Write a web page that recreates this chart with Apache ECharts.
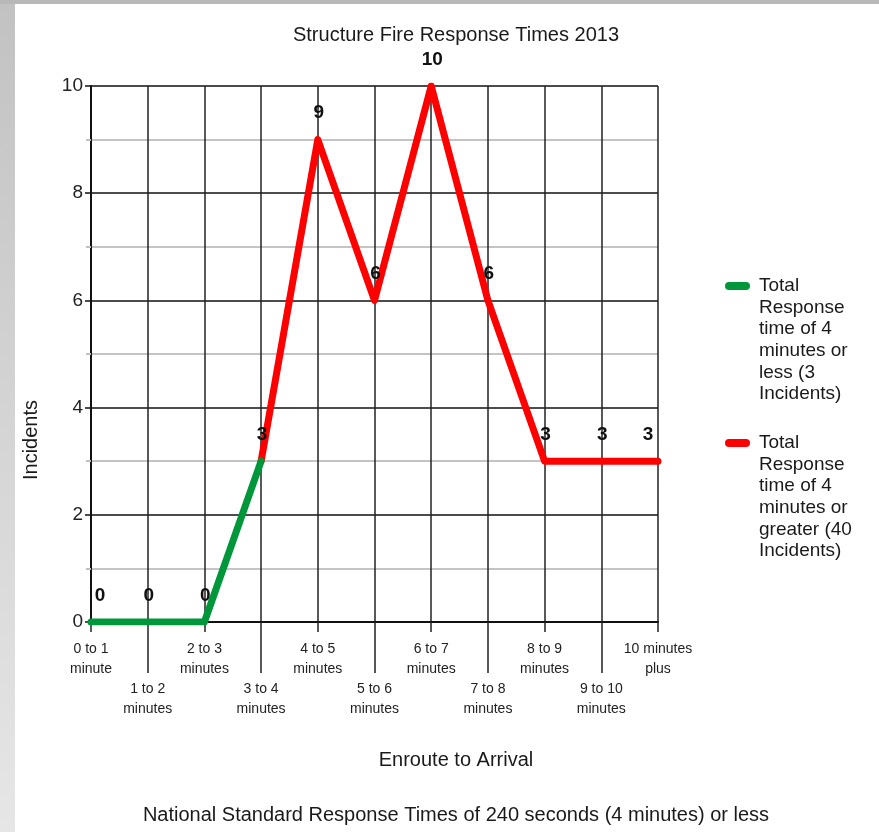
<!DOCTYPE html>
<html>
<head>
<meta charset="utf-8">
<script src="https://cdn.jsdelivr.net/npm/echarts@6/dist/echarts.min.js"></script>
<style>
  html, body { margin: 0; padding: 0; }
  #wrap {
    width: 879px; height: 832px; position: relative;
    background:
      linear-gradient(to bottom, #b8b8b8 0, #b8b8b8 4px, rgba(0,0,0,0) 4px) left top / 100% 4px no-repeat,
      linear-gradient(to bottom, #c2c2c2, #e6e6e6) left top / 15px 100% no-repeat,
      #ffffff;
  }
  #chart { width: 879px; height: 832px; }
</style>
</head>
<body>
<div id="wrap"><div id="chart"></div></div>
<script>
// ---- data ----
const chartTitle = 'Structure Fire Response Times 2013';
const footNote = 'National Standard Response Times of 240 seconds (4 minutes) or less';
const xAxisTitle = 'Enroute to Arrival';
const yAxisTitle = 'Incidents';
const categories = [
  '0 to 1\nminute', '1 to 2\nminutes', '2 to 3\nminutes', '3 to 4\nminutes',
  '4 to 5\nminutes', '5 to 6\nminutes', '6 to 7\nminutes', '7 to 8\nminutes',
  '8 to 9\nminutes', '9 to 10\nminutes', '10 minutes\nplus'
];
const seriesNames = [
  'Total\nResponse\ntime of 4\nminutes or\nless (3\nIncidents)',
  'Total\nResponse\ntime of 4\nminutes or\ngreater (40\nIncidents)'
];
const withinFour = [0, 0, 0, 3, null, null, null, null, null, null, null];
const overFour   = [null, null, null, 3, 9, 6, 10, 6, 3, 3, 3];
const yTicks = [0, 2, 4, 6, 8, 10];

// ---- build ----
const FONT = "'Liberation Sans', Arial, sans-serif";
const labelBase = { show: true, position: 'top', distance: 14, fontFamily: FONT, fontWeight: 'bold', fontSize: 19, color: '#111' };
const lastIdx = categories.length - 1;

function buildItems(values, hideIdx) {
  return values.map((v, i) => {
    if (v === null) return '-';
    const lab = Object.assign({}, labelBase);
    if (hideIdx.indexOf(i) >= 0) lab.show = false;
    if (i === 0) lab.offset = [9, 0];
    else if (i === lastIdx) lab.offset = [-10, 0];
    else lab.offset = [1, 0];
    return { value: v, label: lab };
  });
}

const chart = echarts.init(document.getElementById('chart'), null, { renderer: 'canvas' });
chart.setOption({
  backgroundColor: 'transparent',
  animation: false,
  title: [
    { text: chartTitle, left: 456, textAlign: 'center', top: 25, padding: 0,
      textStyle: { fontFamily: FONT, fontSize: 20, fontWeight: 'normal', color: '#1a1a1a' } },
    { text: footNote, left: 456, textAlign: 'center', top: 805, padding: 0,
      textStyle: { fontFamily: FONT, fontSize: 20, fontWeight: 'normal', color: '#1a1a1a' } }
  ],
  legend: {
    orient: 'vertical', left: 725, top: 275, padding: 0,
    itemWidth: 29, itemHeight: 130, itemGap: 27,
    icon: 'path://M0,0M4,7L21,7A4,4,0,0,1,21,15L4,15A4,4,0,0,1,4,7ZM29,130',
    textStyle: { fontFamily: FONT, fontSize: 19, lineHeight: 21.6, color: '#1a1a1a' },
    data: seriesNames
  },
  grid: { left: 91, right: 221, top: 86, bottom: 210, containLabel: false, outerBoundsMode: 'none' },
  xAxis: [
    {
      type: 'category', data: categories, boundaryGap: false, position: 'bottom',
      name: xAxisTitle, nameLocation: 'middle', nameGap: 128,
      nameTextStyle: { fontFamily: FONT, fontSize: 20, color: '#1a1a1a', padding: [0, 0, 0, 163] },
      axisLine: { show: true, lineStyle: { color: '#111', width: 2 } },
      axisTick: { show: true, length: 10, alignWithLabel: true, interval: 0, lineStyle: { color: '#222', width: 1.5 } },
      axisLabel: {
        interval: 0, margin: 17, fontFamily: FONT, fontSize: 14, lineHeight: 20, color: '#222',
        formatter: (v, i) => (i % 2 === 1 ? '\n\n' + v : v)
      },
      splitLine: { show: true, interval: 0, lineStyle: { color: '#222', width: 1.5 } }
    },
    {
      type: 'category', data: categories, boundaryGap: false, position: 'bottom',
      axisLine: { show: false },
      axisTick: { show: true, length: 51, interval: (i) => i % 2 === 1, lineStyle: { color: '#222', width: 1.5 } },
      axisLabel: { show: false },
      splitLine: { show: false }
    }
  ],
  yAxis: {
    type: 'value', min: 0, max: 10, interval: 2,
    name: yAxisTitle, nameLocation: 'middle', nameGap: 50,
    nameTextStyle: { fontFamily: FONT, fontSize: 20, color: '#1a1a1a', padding: [0, 172, 0, 0] },
    axisLine: { show: true, lineStyle: { color: '#111', width: 2 } },
    axisTick: { show: true, length: 6, lineStyle: { color: '#111', width: 1.5 } },
    axisLabel: { margin: 8, fontFamily: FONT, fontSize: 19, color: '#222',
      formatter: (v) => (yTicks.indexOf(v) >= 0 ? String(v) : '') },
    splitLine: { show: true, lineStyle: { color: '#111', width: 1.5 } },
    minorTick: { show: true, splitNumber: 2, length: 5, lineStyle: { color: '#c0c0c0', width: 2 } },
    minorSplitLine: { show: true, lineStyle: { color: '#c4c4c4', width: 2 } }
  },
  series: [
    {
      name: seriesNames[1], type: 'line', xAxisIndex: 0,
      data: buildItems(overFour, []),
      symbol: 'circle', symbolSize: 6, showSymbol: true,
      itemStyle: { color: '#ff0000' },
      lineStyle: { color: '#ff0000', width: 7, cap: 'round', join: 'round' },
      z: 3
    },
    {
      name: seriesNames[0], type: 'line', xAxisIndex: 0,
      data: buildItems(withinFour, [3]),
      symbol: 'circle', symbolSize: 6, showSymbol: true,
      itemStyle: { color: '#00963a' },
      lineStyle: { color: '#00963a', width: 7, cap: 'round', join: 'round' },
      z: 4
    }
  ]
});
</script>
</body>
</html>
